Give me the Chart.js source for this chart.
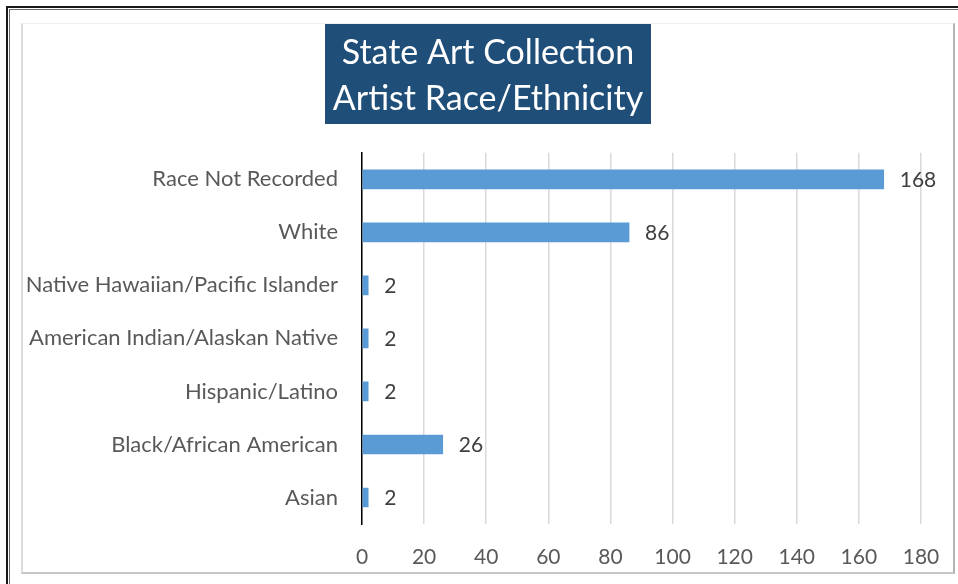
<!DOCTYPE html>
<html>
<head>
<meta charset="utf-8">
<script src="https://cdn.jsdelivr.net/npm/chart.js@4.4.1/dist/chart.umd.min.js"></script>
<style>
  html, body { margin:0; padding:0; background:#fff; width:958px; height:584px; overflow:hidden; }
  #outer { position:absolute; left:6px; top:6px; width:1000px; height:640px; border:2px solid #1a1a1a; }
  #outer2 { position:absolute; left:9px; top:9px; width:1000px; height:640px; border:1px solid #6a6a6a; }
  #frame { position:absolute; left:21px; top:23px; width:930px; height:548px;
           border-left:2px solid #dcdcdc; border-top:1px solid #efefef;
           border-right:2px solid #b4b4b4; border-bottom:2px solid #c6c6c6; background:#fff; }
  canvas { display:block; }
</style>
</head>
<body>
<div id="outer"></div>
<div id="outer2"></div>
<div id="frame"><canvas id="c" width="930" height="548"></canvas></div>
<script>
const titleLines = ["State Art Collection", "Artist Race/Ethnicity"];
const categories = ["Race Not Recorded", "White", "Native Hawaiian/Pacific Islander", "American Indian/Alaskan Native", "Hispanic/Latino", "Black/African American", "Asian"];
const artistCounts = [168, 86, 2, 2, 2, 26, 2];
const xTicks = [0, 20, 40, 60, 80, 100, 120, 140, 160, 180];

const FONT = "Lato, 'Open Sans', sans-serif";

const titleBoxPlugin = {
  id: 'titleBox',
  beforeDraw(chart) {
    const ctx = chart.ctx;
    const w = 326, h = 100;
    const x = chart.width / 2 - w / 2;
    ctx.save();
    ctx.fillStyle = '#1F4E79';
    ctx.fillRect(x, 0, w, h);
    ctx.restore();
  }
};

const dataLabelPlugin = {
  id: 'dataLabels',
  afterDatasetsDraw(chart) {
    const ctx = chart.ctx;
    const meta = chart.getDatasetMeta(0);
    ctx.save();
    ctx.font = "21px " + FONT;
    ctx.fillStyle = '#404040';
    ctx.textAlign = 'left';
    ctx.textBaseline = 'middle';
    meta.data.forEach((bar, i) => {
      ctx.fillText(String(chart.data.datasets[0].data[i]), bar.x + 16, bar.y + 1);
    });
    ctx.restore();
  }
};

new Chart(document.getElementById('c'), {
  type: 'bar',
  data: {
    labels: categories,
    datasets: [{
      data: artistCounts,
      backgroundColor: '#5B9BD5',
      borderWidth: 0,
      barThickness: 19
    }]
  },
  options: {
    indexAxis: 'y',
    responsive: false,
    animation: false,
    devicePixelRatio: 1,
    layout: { padding: 0 },
    plugins: {
      legend: { display: false },
      tooltip: { enabled: false },
      title: {
        display: true,
        text: titleLines,
        color: '#ffffff',
        font: { family: FONT, size: 34, weight: 'normal', lineHeight: 1.35 },
        padding: { top: 6, bottom: 31 }
      }
    },
    scales: {
      x: {
        min: 0, max: 180,
        afterBuildTicks(scale) { scale.ticks = xTicks.map(v => ({ value: v })); },
        afterFit(scale) { scale.height = 48; scale.paddingRight = 32; scale.paddingLeft = 0; },
        grid: { color: '#d9d9d9', lineWidth: 1.5, drawTicks: false },
        border: { display: false },
        ticks: { color: '#595959', padding: 21, font: { family: FONT, size: 21 } }
      },
      y: {
        afterFit(scale) { scale.width = 339; },
        grid: { display: false, drawTicks: false },
        border: { display: true, color: '#000000', width: 1.5 },
        ticks: { color: '#595959', padding: 24, font: { family: FONT, size: 22 } }
      }
    }
  },
  plugins: [titleBoxPlugin, dataLabelPlugin]
});
</script>
</body>
</html>
